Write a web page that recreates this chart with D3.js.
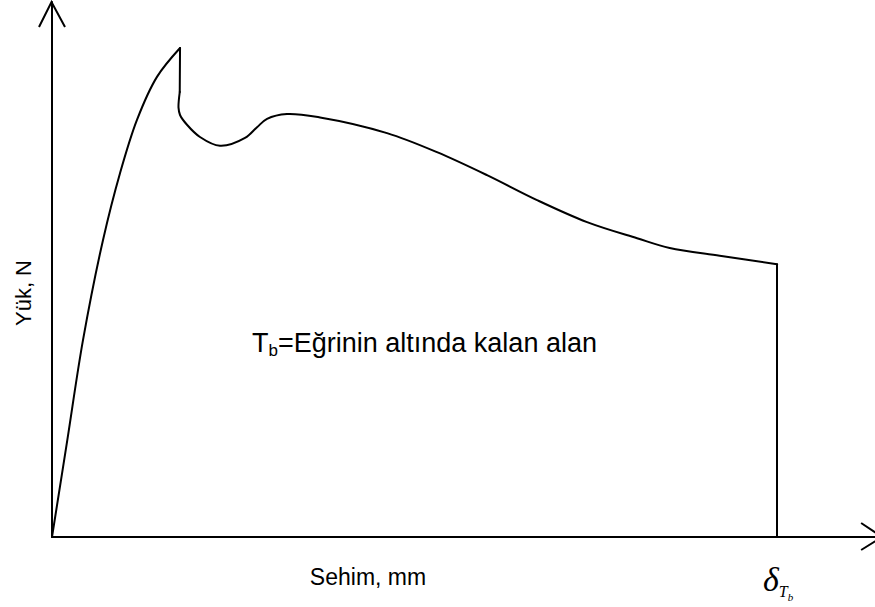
<!DOCTYPE html>
<html>
<head>
<meta charset="utf-8">
<script src="https://cdn.jsdelivr.net/npm/d3@7"></script>
<style>
  html, body { margin: 0; padding: 0; background: #fff; }
  svg { display: block; }
</style>
</head>
<body>
<svg id="chart" width="875" height="607"></svg>
<script>
// Deflection (x, % of δTb) and load (y, % of peak)
const riseX = [0, 2.11, 4.28, 7.03, 9.38, 11.72, 14.48, 17.66];
const riseY = [0, 19.8, 40.3, 60.7, 74.4, 85.3, 94.1, 100];
const dropX = [17.66, 17.62];
const dropY = [100, 91.0];
const tailX = [17.62, 17.45, 17.66, 18.62, 20.41, 23.17, 26.62, 28.28, 29.66, 32.41, 36.97, 46.21, 53.10, 60.0, 66.9, 73.8, 80.7, 85.2, 92.1, 100];
const tailY = [91.0, 87.8, 86.3, 84.3, 81.8, 80.0, 81.6, 83.8, 85.5, 86.5, 85.8, 82.6, 78.7, 74.0, 68.9, 64.4, 61.1, 59.1, 57.5, 55.8];
const endX = [100, 100];
const endY = [55.8, 0];
const axisLimits = [114.5, 109.4];
const xLabel = "Sehim, mm";
const yLabel = "Yük, N";
const areaLabel = ["T", "b", "=Eğrinin altında kalan alan"];

const svg = d3.select("#chart");
const x = d3.scaleLinear().domain([0, 100]).range([52, 777]);
const y = d3.scaleLinear().domain([0, 100]).range([537, 48]);

const pts = (xs, ys) => xs.map((v, i) => [v, ys[i]]);
const line = d3.line().x(d => x(d[0])).y(d => y(d[1]));
const stroke = { stroke: "#000", "stroke-width": 2, fill: "none", "stroke-linejoin": "round", "stroke-linecap": "round" };
function draw(data, curve) {
  const p = svg.append("path").attr("d", line.curve(curve)(data));
  Object.entries(stroke).forEach(([k, v]) => p.attr(k, v));
}

// Axes with open arrowheads
const x0 = x(0), y0 = y(0);
const xEnd = x(axisLimits[0]), yEnd = y(axisLimits[1]);
draw([[0, 0], [axisLimits[0], 0]], d3.curveLinear);
draw([[0, 0], [0, axisLimits[1]]], d3.curveLinear);
svg.append("path")
  .attr("d", `M${x0 - 13},${yEnd + 25}L${x0 - 0.5},${yEnd}L${x0 + 13},${yEnd + 25}`)
  .attr("stroke", "#000").attr("stroke-width", 2).attr("fill", "none");
svg.append("path")
  .attr("d", `M${xEnd - 21},${y0 - 14}L${xEnd},${y0}L${xEnd - 21},${y0 + 13}`)
  .attr("stroke", "#000").attr("stroke-width", 2).attr("fill", "none");

// Load-deflection curve
draw(pts(riseX, riseY), d3.curveCatmullRom.alpha(0.5));
draw(pts(dropX, dropY), d3.curveLinear);
draw(pts(tailX, tailY), d3.curveCatmullRom.alpha(0.5));
draw(pts(endX, endY), d3.curveLinear);

// Labels
const sans = "Arial, 'Liberation Sans', Helvetica, sans-serif";
svg.append("text")
  .attr("x", 368).attr("y", 585)
  .attr("text-anchor", "middle")
  .attr("font-family", sans).attr("font-size", 23)
  .text(xLabel);

svg.append("text")
  .attr("transform", `translate(31,293) rotate(-90)`)
  .attr("text-anchor", "middle")
  .attr("font-family", sans).attr("font-size", 22)
  .text(yLabel);

const t = svg.append("text")
  .attr("x", 252).attr("y", 352)
  .attr("font-family", sans).attr("font-size", 27);
t.append("tspan").text(areaLabel[0]);
t.append("tspan").attr("font-size", 17).attr("dy", 4).text(areaLabel[1]);
t.append("tspan").attr("dy", -4).text(areaLabel[2]);

const serif = "'Liberation Serif', 'Times New Roman', serif";
const d = svg.append("text")
  .attr("x", x(100) - 14).attr("y", 591)
  .attr("font-family", serif).attr("font-style", "italic").attr("font-size", 34);
d.append("tspan").text("δ");
d.append("tspan").attr("font-size", 16).attr("dy", 6).text("T");
d.append("tspan").attr("font-size", 11).attr("dy", 4).text("b");
</script>
</body>
</html>
